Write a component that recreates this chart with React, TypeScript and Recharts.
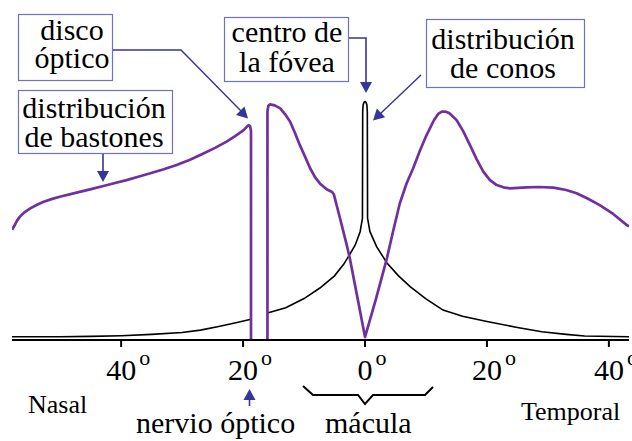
import React from "react";
import { LineChart, Line, XAxis, YAxis } from "recharts";

// Distribución de bastones (rods) – degrees vs relative density
const rodDeg = [
  -57.9, -57.6, -57.1, -56.6, -55.8, -54.9, -53.8, -52.7, -51.3, -49.9, -47.3, -45.1, -42.9, -41.0, -39.1,
  -37.2, -35.2, -33.0, -30.9, -28.7, -26.5, -24.6, -22.7, -21.3, -19.9, -19.4, -19.1, -18.85, -18.7, -18.7,
  -17.35,
  -16.0, -16.0, -15.85, -15.6, -14.8, -13.9, -13.1, -12.3, -11.5, -10.7, -9.8, -9.0, -8.2, -7.4, -6.3, -5.4,
  -5.1, -4.1, -3.0, -2.5, -1.2, 0,
  1.8, 3.6, 4.6, 5.7, 6.8, 7.9, 9.0, 10.1, 11.3, 12.0, 12.6, 13.2, 13.8, 15.0, 16.1, 17.2, 18.3, 19.4, 20.5,
  21.6, 22.7, 23.8, 26.5, 28.5, 30.9, 33.0, 34.7, 36.5, 38.5, 40.7, 42.9, 43.3,
];
const rodVal: (number | null)[] = [
  33.5, 34.4, 36.2, 37.5, 38.9, 40.0, 41.1, 42.0, 42.9, 43.6, 44.8, 45.8, 46.8, 47.7, 48.6,
  49.6, 50.7, 51.9, 53.2, 54.8, 56.7, 58.4, 60.3, 62.0, 63.8, 64.8, 65.3, 65.0, 63.5, 0,
  null,
  0, 69.5, 71.2, 71.6, 71.3, 70.4, 68.6, 66.4, 63.0, 59.3, 55.6, 52.2, 49.5, 47.6, 45.8, 45.0,
  44.2, 37.0, 28.9, 24.9, 12.5, 0.9,
  12.5, 24.9, 33.0, 41.5, 47.5, 52.2, 57.5, 62.3, 66.8, 68.7, 69.4, 69.4, 69.0, 66.9, 63.5, 59.3, 55.0, 51.2, 48.6,
  47.1, 46.4, 46.1, 46.4, 46.5, 46.3, 45.6, 44.6, 43.0, 41.0, 38.3, 35.0, 34.5,
];

// Distribución de conos (cones)
const coneDeg = [
  -57.9, -50, -45, -40, -35, -30, -27, -24, -21, -18.7,
  -17.35,
  -16.0, -13, -10, -7.4, -5, -3.5, -2.5, -1.6, -0.8, -0.42, -0.38, -0.3, -0.15, 0,
  0.15, 0.3, 0.38, 0.42, 0.8, 1.9, 3.6, 5.5, 7.4, 10, 12.8, 16, 20, 25, 29, 33, 36, 43.3,
];
const coneVal: (number | null)[] = [
  1.0, 1.0, 1.1, 1.3, 1.7, 2.3, 3.0, 4.1, 5.3, 6.3,
  null,
  8.2, 9.8, 12.6, 15.8, 19.5, 23.0, 26.0, 28.9, 32.9, 37.0, 69.5, 71.5, 72.3, 72.5,
  72.3, 71.5, 69.5, 37.0, 33.0, 28.4, 23.4, 19.5, 16.2, 12.5, 9.1, 7.2, 5.6, 3.8, 2.5, 1.7, 1.2, 1.0,
];

const xTicks = [-40, -20, 0, 20, 40];
const xDomain = [-57.9, 43.3];

const rodData = rodDeg.map((x, i) => ({ x, y: rodVal[i] }));
const coneData = coneDeg.map((x, i) => ({ x, y: coneVal[i] }));

const SERIF = "'Liberation Serif', 'Times New Roman', serif";
const PURPLE = "#7030a0";
const ARROW = "#35359a";
const BOX = "#7070c4";

const DegTick = (props: any) => {
  const { x, y, payload } = props;
  const s = String(Math.abs(payload.value));
  const w = s.length * 15;
  return (
    <text x={x - w / 2} y={y + 31} fontFamily={SERIF} fontSize={30} fill="#000">
      <tspan>{s}</tspan>
      <tspan dx={3} dy={-15} fontSize={22}>o</tspan>
    </text>
  );
};

const Head = ({ tx, ty, angle }: { tx: number; ty: number; angle: number }) => {
  // arrowhead pointing in direction angle (deg), tip at (tx,ty)
  const len = 11;
  const half = 6;
  const a = (angle * Math.PI) / 180;
  const bx = tx - len * Math.cos(a);
  const by = ty - len * Math.sin(a);
  const px = -Math.sin(a) * half;
  const py = Math.cos(a) * half;
  return <polygon points={`${tx},${ty} ${bx + px},${by + py} ${bx - px},${by - py}`} fill={ARROW} />;
};

const Box = ({ x, y, w, h, cx, lines }: { x: number; y: number; w: number; h: number; cx: number; lines: [string, number][] }) => (
  <g>
    <rect x={x} y={y} width={w} height={h} fill="#fff" stroke={BOX} strokeWidth={1.2} />
    {lines.map(([t, by], i) => (
      <text key={i} x={cx} y={by} textAnchor="middle" fontFamily={SERIF} fontSize={30} fill="#000">
        {t}
      </text>
    ))}
  </g>
);

export default function App() {
  return (
    <div style={{ position: "absolute", left: 0, top: 0, width: 632, height: 441, background: "#fff" }}>
      <LineChart width={632} height={441} data={rodData} margin={{ top: 11, right: 3, left: 12, bottom: 71 }}>
        <XAxis
          dataKey="x"
          type="number"
          domain={xDomain}
          allowDataOverflow
          ticks={xTicks}
          tick={<DegTick />}
          tickSize={7}
          tickMargin={2}
          height={30}
          axisLine={{ stroke: "#000", strokeWidth: 2 }}
          tickLine={{ stroke: "#000", strokeWidth: 2 }}
        />
        <XAxis
          xAxisId="top"
          orientation="top"
          dataKey="x"
          type="number"
          domain={xDomain}
          allowDataOverflow
          height={0}
          tick={false}
          tickLine={false}
          axisLine={{ stroke: "#000", strokeWidth: 2 }}
        />
        <YAxis
          type="number"
          domain={[0, 100]}
          width={0}
          tick={false}
          tickLine={false}
          axisLine={{ stroke: "#000", strokeWidth: 2 }}
        />
        <YAxis
          yAxisId="right"
          orientation="right"
          type="number"
          domain={[0, 100]}
          width={0}
          tick={false}
          tickLine={false}
          axisLine={{ stroke: "#000", strokeWidth: 2 }}
        />
        <Line
          data={coneData}
          dataKey="y"
          type="linear"
          stroke="#000"
          strokeWidth={1.6}
          dot={false}
          isAnimationActive={false}
        />
        <Line
          data={rodData}
          dataKey="y"
          type="linear"
          stroke={PURPLE}
          strokeWidth={2.7}
          strokeLinejoin="round"
          dot={false}
          isAnimationActive={false}
        />
      </LineChart>
      <svg
        width={632}
        height={441}
        style={{ position: "absolute", left: 0, top: 0, pointerEvents: "none" }}
      >
        <Box x={18.5} y={14.5} w={94} h={66} cx={72} lines={[["disco", 40], ["óptico", 68]]} />
        <Box x={18.5} y={90.5} w={154} h={63} cx={94} lines={[["distribución", 118], ["de bastones", 147]]} />
        <Box x={224.5} y={17.5} w={124} h={64} cx={287} lines={[["centro de", 42], ["la fóvea", 72]]} />
        <Box x={426.5} y={19.5} w={158} h={68} cx={503} lines={[["distribución", 49], ["de conos", 78]]} />

        {/* disco óptico arrow */}
        <polyline points="113,50 181,50 241,111" fill="none" stroke={ARROW} strokeWidth={1.4} />
        <Head tx={248} ty={118.5} angle={45} />
        {/* bastones arrow */}
        <line x1={103} y1={154} x2={103} y2={174} stroke={ARROW} strokeWidth={1.6} />
        <Head tx={103} ty={182} angle={90} />
        {/* fóvea arrow */}
        <polyline points="349,38 366,38 366,84" fill="none" stroke={ARROW} strokeWidth={1.6} />
        <Head tx={366} ty={93} angle={90} />
        {/* conos arrow */}
        <line x1={421} y1={75} x2={380} y2={114} stroke={ARROW} strokeWidth={1.4} />
        <Head tx={373} ty={120.5} angle={136.5} />
        {/* nervio óptico arrow */}
        <line x1={249.5} y1={406} x2={249.5} y2={396} stroke={ARROW} strokeWidth={1.6} />
        <Head tx={249.5} ty={389} angle={-90} />

        {/* mácula brace */}
        <polyline
          points="303,386 313,395 358,395 365,404 373,395 425,395 433,387"
          fill="none"
          stroke="#000"
          strokeWidth={2}
        />

        <text x={28} y={413} fontFamily={SERIF} fontSize={26} fill="#000">Nasal</text>
        <text x={521} y={420} fontFamily={SERIF} fontSize={26} fill="#000">Temporal</text>
        <text x={136} y={433} fontFamily={SERIF} fontSize={30} fill="#000">nervio óptico</text>
        <text x={325} y={433} fontFamily={SERIF} fontSize={30} fill="#000">mácula</text>
      </svg>
    </div>
  );
}
